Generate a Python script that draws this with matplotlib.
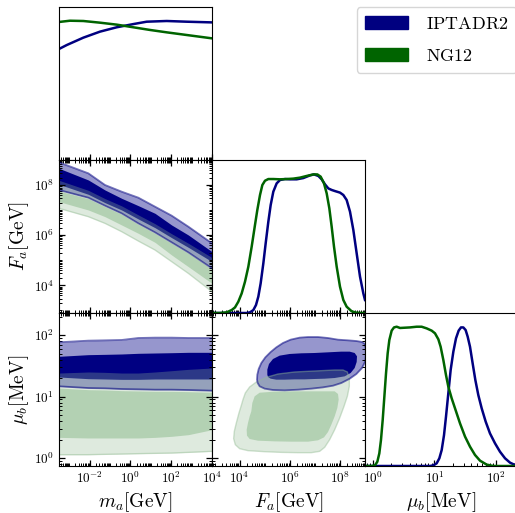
import numpy as np
import matplotlib
matplotlib.use('Agg')
import matplotlib.pyplot as plt
from matplotlib.ticker import FixedLocator, LogLocator, FuncFormatter, NullLocator, NullFormatter
from matplotlib.patches import Patch

plt.rcParams['mathtext.fontset'] = 'cm'
plt.rcParams['font.family'] = 'serif'

# colours
BLUE = '#000080'
GREEN = '#006400'
BLUE_OUT = '#9696cd'
BLUE_IN = '#000082'
GREEN_OUT = (148/255, 188/255, 148/255)
GREEN_IN = (80/255, 152/255, 80/255)
GREEN_ALPHA = 0.3

chains = ['IPTADR2', 'NG12']

# axis ranges (log10) and labelled decades
m_lim = (-3.5, 4.0)
F_lim = (2.9, 9.0)
mu_lim = (-0.13, 2.36)
m_ticks = [-2, 0, 2, 4]
F_ticks = [4, 6, 8]
mu_ticks = [0, 1, 2]

# ---- marginal of m_a (log10 m_a, density) ----
m_blue_x = [-3.5, -3.124, -2.307, -1.49, -0.673, 0.144, 0.798, 1.778, 2.758, 4.0]
m_blue_y = [0.793, 0.821, 0.874, 0.917, 0.948, 0.971, 0.988, 0.993, 0.988, 0.983]
m_green_x = [-3.5, -2.961, -2.307, -1.49, -0.673, 0.144, 0.961, 1.778, 2.758, 4.0]
m_green_y = [0.986, 0.995, 0.993, 0.981, 0.967, 0.948, 0.929, 0.912, 0.893, 0.869]

# ---- marginal of F_a ----
F_green_x = [2.9, 3.219, 3.485, 3.684, 3.817, 3.95, 4.083, 4.216, 4.349, 4.482, 4.614, 4.707,
             4.814, 4.907, 5.013, 5.146, 5.345, 5.611, 5.877, 6.143, 6.409, 6.674, 6.94, 7.1,
             7.233, 7.365, 7.472, 7.578, 7.671, 7.764, 7.871, 8.003, 8.136, 8.269, 8.469,
             8.668, 9.0]
F_green_y = [0, 0, 0.005, 0.021, 0.04, 0.081, 0.14, 0.224, 0.331, 0.474, 0.629, 0.736,
             0.843, 0.914, 0.945, 0.957, 0.957, 0.955, 0.957, 0.96, 0.967, 0.979, 0.99, 0.99,
             0.974, 0.926, 0.855, 0.748, 0.617, 0.474, 0.331, 0.188, 0.093, 0.045, 0.012,
             0.002, 0]
F_blue_x = [2.9, 4.282, 4.415, 4.548, 4.654, 4.747, 4.84, 4.947, 5.04, 5.146, 5.239, 5.345,
            5.478, 5.611, 5.811, 6.01, 6.276, 6.541, 6.807, 6.967, 7.14, 7.273, 7.405, 7.538,
            7.671, 7.804, 8.003, 8.136, 8.269, 8.402, 8.535, 8.668, 8.801, 8.934, 9.0]
F_blue_y = [0, 0, 0.005, 0.021, 0.057, 0.117, 0.212, 0.355, 0.498, 0.652, 0.771, 0.867,
            0.926, 0.95, 0.957, 0.955, 0.955, 0.964, 0.983, 0.99, 0.979, 0.955, 0.919, 0.89,
            0.879, 0.871, 0.86, 0.843, 0.807, 0.724, 0.593, 0.426, 0.26, 0.14, 0.093]

# ---- marginal of mu_b ----
mu_green_x = [-0.13, -0.021, 0.033, 0.071, 0.103, 0.13, 0.158, 0.185, 0.212, 0.239, 0.266,
              0.304, 0.342, 0.385, 0.44, 0.521, 0.602, 0.711, 0.792, 0.874, 0.955, 1.009,
              1.064, 1.101, 1.145, 1.188, 1.226, 1.281, 1.335, 1.416, 1.498, 1.579, 1.66,
              1.742, 1.85, 1.959, 2.311]
mu_green_y = [0, 0, 0.005, 0.031, 0.09, 0.186, 0.329, 0.495, 0.662, 0.805, 0.9,
              0.967, 0.99, 0.995, 0.986, 0.988, 0.99, 0.995, 0.995, 0.983, 0.967, 0.948,
              0.905, 0.852, 0.757, 0.65, 0.567, 0.483, 0.412, 0.305, 0.21, 0.138, 0.079,
              0.038, 0.01, 0, 0]
mu_blue_x = [-0.13, 0.928, 0.982, 1.036, 1.08, 1.118, 1.156, 1.188, 1.226, 1.264, 1.308,
             1.351, 1.394, 1.432, 1.47, 1.508, 1.541, 1.579, 1.622, 1.666, 1.714, 1.769,
             1.834, 1.904, 1.986, 2.067, 2.149, 2.23, 2.311]
mu_blue_y = [0, 0, 0.005, 0.019, 0.055, 0.114, 0.221, 0.352, 0.519, 0.686, 0.817,
             0.912, 0.967, 0.99, 0.99, 0.971, 0.924, 0.852, 0.733, 0.614, 0.507, 0.412,
             0.317, 0.233, 0.162, 0.102, 0.055, 0.024, 0.007]

# ---- m_a vs F_a bands (log10) ----
mF_x = [-3.5, -2.06, -1.245, -0.428, 0.389, 1.206, 2.023, 2.84, 4.0]
mF_blue_out_hi = [8.907, 8.468, 8.003, 7.737, 7.498, 7.139, 6.781, 6.342, 5.678]
mF_blue_in_hi = [8.668, 8.203, 7.804, 7.472, 7.179, 6.874, 6.408, 6.01, 5.345]
mF_blue_in_lo = [8.03, 7.631, 7.299, 7.007, 6.648, 6.302, 5.903, 5.518, 4.947]
mF_blue_out_lo = [7.804, 7.498, 7.179, 6.874, 6.475, 6.116, 5.717, 5.318, 4.681]
mF_green_out_hi = [8.19, 7.79, 7.46, 7.17, 6.81, 6.46, 6.06, 5.68, 5.11]
mF_green_in_hi = [7.764, 7.458, 7.139, 6.834, 6.435, 6.076, 5.678, 5.279, 4.641]
mF_green_in_lo = [7.339, 7.007, 6.741, 6.408, 6.076, 5.717, 5.212, 4.747, 4.083]
mF_green_out_lo = [7.073, 6.741, 6.475, 6.143, 5.77, 5.412, 4.947, 4.481, 3.75]

# ---- m_a vs mu_b bands (log10) ----
mmu_x = mF_x
mmu_blue_out_hi = [1.883, 1.91, 1.915, 1.921, 1.953, 1.959, 1.959, 1.953, 1.953]
mmu_blue_in_hi = [1.655, 1.682, 1.687, 1.693, 1.704, 1.709, 1.714, 1.72, 1.72]
mmu_blue_in_lo = [1.318, 1.291, 1.286, 1.28, 1.28, 1.286, 1.286, 1.286, 1.286]
mmu_blue_out_lo = [1.167, 1.139, 1.134, 1.123, 1.118, 1.112, 1.112, 1.107, 1.096]
mmu_green_out_hi = [1.383, 1.4, 1.394, 1.383, 1.383, 1.4, 1.421, 1.443, 1.465]
mmu_green_in_hi = [1.139, 1.112, 1.107, 1.096, 1.091, 1.085, 1.085, 1.08, 1.069]
mmu_green_in_lo = [0.336, 0.326, 0.326, 0.326, 0.326, 0.336, 0.353, 0.38, 0.461]
mmu_green_out_lo = [0.054, 0.054, 0.06, 0.065, 0.071, 0.076, 0.081, 0.092, 0.109]

# ---- F_a vs mu_b contours (log10 polygons) ----
Fmu_blue_out_F = [4.694, 4.707, 4.761, 4.867, 5.026, 5.239, 5.465, 5.731, 6.036, 6.395, 6.728,
                  7.126, 7.525, 7.924, 8.322, 8.655, 8.881, 9.0, 9.053, 9.013, 8.881, 8.655,
                  8.389, 8.057, 7.724, 7.326, 6.86, 6.329, 5.797, 5.332, 5.0, 4.8, 4.721]
Fmu_blue_out_mu = [1.275, 1.356, 1.449, 1.546, 1.638, 1.725, 1.801, 1.872, 1.926, 1.959, 1.969,
                   1.969, 1.953, 1.926, 1.915, 1.904, 1.888, 1.855, 1.736, 1.573, 1.465, 1.367,
                   1.291, 1.221, 1.177, 1.15, 1.129, 1.112, 1.101, 1.107, 1.129, 1.167, 1.221]
Fmu_blue_in_F = [5.106, 5.106, 5.172, 5.332, 5.598, 5.997, 6.462, 6.993, 7.525, 8.057, 8.389,
                 8.588, 8.681, 8.668, 8.588, 8.429, 8.189, 7.791, 7.392, 6.993, 6.595, 6.196,
                 5.797, 5.465, 5.239, 5.133]
Fmu_blue_in_mu = [1.356, 1.438, 1.53, 1.611, 1.666, 1.693, 1.704, 1.709, 1.72, 1.731, 1.731,
                  1.709, 1.655, 1.563, 1.465, 1.384, 1.329, 1.302, 1.291, 1.286, 1.28, 1.28,
                  1.275, 1.275, 1.291, 1.318]
Fmu_green_out_F = [4.136, 4.229, 4.402, 4.668, 5.066, 5.531, 6.196, 6.993, 7.791, 8.123, 8.296,
                   8.375, 8.375, 8.296, 8.163, 7.99, 7.791, 7.591, 7.392, 7.193, 6.86, 6.329,
                   5.664, 5.0, 4.335, 4.003, 3.83, 3.764, 3.79, 3.87, 3.976, 4.07]
Fmu_green_out_mu = [0.95, 1.058, 1.156, 1.237, 1.313, 1.367, 1.4, 1.416, 1.432, 1.432, 1.4,
                    1.302, 1.167, 1.004, 0.841, 0.651, 0.461, 0.299, 0.174, 0.109, 0.087, 0.087,
                    0.092, 0.103, 0.12, 0.152, 0.217, 0.315, 0.434, 0.57, 0.733, 0.857]
Fmu_green_in_F = [4.468, 4.508, 4.601, 4.8, 5.399, 6.196, 7.126, 7.791, 7.924, 7.95, 7.897,
                  7.791, 7.658, 7.525, 7.365, 7.126, 6.728, 6.063, 5.399, 4.734, 4.402, 4.295,
                  4.282, 4.335, 4.402]
Fmu_green_in_mu = [0.76, 0.895, 1.004, 1.063, 1.08, 1.085, 1.085, 1.085, 1.042, 0.95, 0.814,
                   0.678, 0.543, 0.423, 0.336, 0.288, 0.266, 0.266, 0.271, 0.282, 0.309, 0.364,
                   0.461, 0.57, 0.678]


def p10(a):
    return 10 ** np.asarray(a, dtype=float)


fig = plt.figure(figsize=(5.15, 5.13), dpi=100)
W, H = 515.0, 513.0
col_left = [59, 212, 365]
row_top = [7, 160, 313]
size = 153


def make_ax(r, c):
    return fig.add_axes([col_left[c] / W, 1 - (row_top[r] + size) / H, size / W, size / H])


def exp_fmt(v, pos):
    return r'$10^{%d}$' % int(round(np.log10(v)))


def style_axis(axis, ticks):
    axis.set_major_locator(FixedLocator(p10(ticks)))
    axis.set_minor_locator(LogLocator(base=10, subs=np.arange(1, 10), numticks=50))
    axis.set_major_formatter(FuncFormatter(exp_fmt))
    axis.set_minor_formatter(NullFormatter())


def style_2d(ax, xl, yl, xt, yt):
    ax.set_xscale('log')
    ax.set_yscale('log')
    ax.set_xlim(p10(xl[0]), p10(xl[1]))
    ax.set_ylim(p10(yl[0]), p10(yl[1]))
    style_axis(ax.xaxis, xt)
    style_axis(ax.yaxis, yt)
    ax.tick_params(which='both', direction='in', top=True, right=True, labelsize=9.5)
    ax.tick_params(which='major', length=4.5, width=0.9)
    ax.tick_params(which='minor', length=2.5, width=0.7)


def style_diag(ax, xl, xt):
    ax.set_xscale('log')
    ax.set_xlim(p10(xl[0]), p10(xl[1]))
    ax.set_ylim(0, 1.093)
    style_axis(ax.xaxis, xt)
    ax.yaxis.set_major_locator(NullLocator())
    ax.tick_params(which='both', direction='in', labelsize=9.5)
    ax.tick_params(which='major', length=4.5, width=0.9)
    ax.tick_params(which='minor', length=2.5, width=0.7)


def bands(ax, x, bo_hi, bi_hi, bi_lo, bo_lo, go_hi, gi_hi, gi_lo, go_lo):
    xx = p10(x)
    ax.fill_between(xx, p10(bo_lo), p10(bo_hi), color=BLUE_OUT, lw=0)
    ax.fill_between(xx, p10(bi_lo), p10(bi_hi), color=BLUE_IN, lw=0)
    ax.fill_between(xx, p10(go_lo), p10(go_hi), color=GREEN_OUT, alpha=GREEN_ALPHA, lw=0)
    ax.fill_between(xx, p10(gi_lo), p10(gi_hi), color=GREEN_IN, alpha=GREEN_ALPHA, lw=0)
    ax.plot(xx, p10(go_lo), color=GREEN_OUT, alpha=0.45, lw=1)
    for arr in [bo_hi, bo_lo]:
        ax.plot(xx, p10(arr), color=BLUE, alpha=0.55, lw=1.3)


label_kw = dict(fontsize=14)
XLAB_Y = -0.16
YLAB_X = -0.18

# row 0: m_a marginal
ax00 = make_ax(0, 0)
style_diag(ax00, m_lim, m_ticks)
ax00.plot(p10(m_blue_x), m_blue_y, color=BLUE, lw=1.8)
ax00.plot(p10(m_green_x), m_green_y, color=GREEN, lw=1.8)
ax00.tick_params(labelbottom=False)

# row 1
ax10 = make_ax(1, 0)
style_2d(ax10, m_lim, F_lim, m_ticks, F_ticks)
bands(ax10, mF_x, mF_blue_out_hi, mF_blue_in_hi, mF_blue_in_lo, mF_blue_out_lo,
      mF_green_out_hi, mF_green_in_hi, mF_green_in_lo, mF_green_out_lo)
ax10.tick_params(labelbottom=False)
ax10.set_ylabel(r'$F_a[\mathrm{GeV}]$', **label_kw)
ax10.yaxis.set_label_coords(YLAB_X, 0.5)

ax11 = make_ax(1, 1)
style_diag(ax11, F_lim, F_ticks)
ax11.plot(p10(F_blue_x), F_blue_y, color=BLUE, lw=1.8)
ax11.plot(p10(F_green_x), F_green_y, color=GREEN, lw=1.8)
ax11.tick_params(labelbottom=False)

# row 2
ax20 = make_ax(2, 0)
style_2d(ax20, m_lim, mu_lim, m_ticks, mu_ticks)
bands(ax20, mmu_x, mmu_blue_out_hi, mmu_blue_in_hi, mmu_blue_in_lo, mmu_blue_out_lo,
      mmu_green_out_hi, mmu_green_in_hi, mmu_green_in_lo, mmu_green_out_lo)
ax20.set_ylabel(r'$\mu_b[\mathrm{MeV}]$', **label_kw)
ax20.yaxis.set_label_coords(YLAB_X, 0.5)
ax20.set_xlabel(r'$m_a[\mathrm{GeV}]$', **label_kw)
ax20.xaxis.set_label_coords(0.5, XLAB_Y)

ax21 = make_ax(2, 1)
style_2d(ax21, F_lim, mu_lim, F_ticks, mu_ticks)
ax21.fill(p10(Fmu_blue_out_F), p10(Fmu_blue_out_mu), color=BLUE_OUT, lw=0)
ax21.fill(p10(Fmu_blue_in_F), p10(Fmu_blue_in_mu), color=BLUE_IN, lw=0)
ax21.fill(p10(Fmu_green_out_F), p10(Fmu_green_out_mu), color=GREEN_OUT, alpha=GREEN_ALPHA, lw=0)
ax21.fill(p10(Fmu_green_in_F), p10(Fmu_green_in_mu), color=GREEN_IN, alpha=GREEN_ALPHA, lw=0)
ax21.fill(p10(Fmu_green_out_F), p10(Fmu_green_out_mu), fill=False, ec=GREEN_OUT, alpha=0.45, lw=1)
ax21.fill(p10(Fmu_blue_out_F), p10(Fmu_blue_out_mu), fill=False, ec=BLUE, alpha=0.55, lw=1.3)
ax21.tick_params(labelleft=False)
ax21.set_xlabel(r'$F_a[\mathrm{GeV}]$', **label_kw)
ax21.xaxis.set_label_coords(0.5, XLAB_Y)

ax22 = make_ax(2, 2)
style_diag(ax22, mu_lim, mu_ticks)
ax22.plot(p10(mu_blue_x), mu_blue_y, color=BLUE, lw=1.8)
ax22.plot(p10(mu_green_x), mu_green_y, color=GREEN, lw=1.8)
ax22.set_xlabel(r'$\mu_b[\mathrm{MeV}]$', **label_kw)
ax22.xaxis.set_label_coords(0.5, XLAB_Y)

handles = [Patch(color=BLUE), Patch(color=GREEN)]
labels = [r'$\mathrm{%s}$' % c for c in chains]
fig.legend(handles, labels, loc='upper right', bbox_to_anchor=(1.021, 1.004),
           fontsize=13, handlelength=2.4, handleheight=0.75, labelspacing=0.75,
           borderpad=0.45, handletextpad=1.0)

fig.savefig('out.png', dpi=100)
